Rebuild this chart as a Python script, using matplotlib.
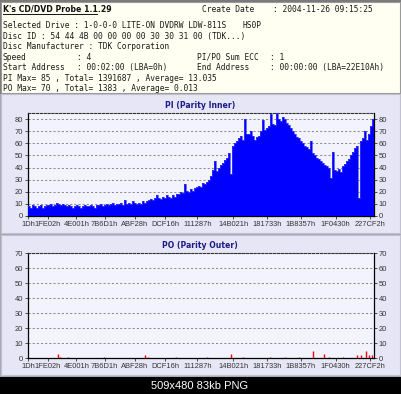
import matplotlib
matplotlib.use("Agg")
import matplotlib.pyplot as plt
import numpy as np
from matplotlib.patches import Rectangle
from matplotlib.lines import Line2D

W, H = 402, 394
END_LBA = 0x22E10A

# ---- data ----
pi_values = [
    8, 7, 9, 8, 7,
    8, 9, 7, 8, 9,
    9, 10, 8, 9, 11,
    10, 9, 10, 9, 8,
    9, 8, 7, 8, 9,
    8, 7, 8, 9, 8,
    8, 9, 8, 7, 9,
    9, 10, 8, 9, 10,
    9, 10, 11, 9, 10,
    10, 11, 9, 13, 10,
    11, 10, 12, 11, 10,
    11, 10, 12, 11, 12,
    13, 14, 13, 15, 17,
    15, 14, 16, 15, 17,
    16, 15, 17, 16, 18,
    18, 20, 19, 26, 21,
    20, 22, 21, 23, 24,
    25, 24, 27, 26, 28,
    30, 33, 38, 45, 37,
    40, 42, 44, 46, 48,
    52, 35, 58, 60, 62,
    64, 66, 63, 80, 68,
    68, 70, 66, 63, 65,
    66, 70, 79, 71, 73,
    74, 84, 76, 75, 85,
    80, 78, 82, 80, 77,
    75, 73, 70, 68, 65,
    64, 62, 60, 58, 57,
    55, 62, 52, 50, 48,
    47, 45, 44, 42, 41,
    40, 31, 53, 38, 37,
    39, 36, 41, 43, 45,
    47, 50, 53, 56, 58,
    15, 62, 64, 70, 63,
    68, 74, 80,
]

po_lba = [198000, 214000, 262000, 500000, 773000, 790000, 980000, 1180000,
          1341000, 1420000, 1600000, 1700000, 1790000, 1883000, 1955000,
          1990000, 2080000, 2174000, 2200000, 2233000, 2250000, 2270000]
po_val = [3, 1, 1, 1, 2, 1, 1, 1,
          3, 1, 1, 1, 1, 5, 3,
          1, 1, 2, 2, 5, 2, 2]

pi_ticks = [0x1D, 0x1FE02, 0x4E001, 0x7B6D1, 0xABF28, 0xDCF16,
            0x111287, 0x14B021, 0x181733, 0x1B8357, 0x1F0430, 0x227CF2]
tick_labels = ["1Dh", "1FE02h", "4E001h", "7B6D1h", "ABF28h", "DCF16h",
               "111287h", "14B021h", "181733h", "1B8357h", "1F0430h", "227CF2h"]

header_lines = [
    "Selected Drive : 1-0-0-0 LITE-ON DVDRW LDW-811S",
    "Disc ID : 54 44 4B 00 00 00 00 30 30 31 00 (TDK...)",
    "Disc Manufacturer : TDK Corporation",
    "Speed",
    "Start Address",
    "PI Max= 85 , Total= 1391687 , Average= 13.035",
    "PO Max= 70 , Total= 1383 , Average= 0.013",
]

# ---- figure ----
fig = plt.figure(figsize=(W / 100, H / 100), dpi=100)
fig.patch.set_facecolor("white")


def rect(x, y, w, h, fc, ec="none", lw=0, z=0):
    fig.add_artist(Rectangle((x / W, 1 - (y + h) / H), w / W, h / H,
                             transform=fig.transFigure, facecolor=fc,
                             edgecolor=ec, linewidth=lw, zorder=z))


def hline(x0, x1, y, color, lw=1):
    fig.add_artist(Line2D([x0 / W, x1 / W], [1 - y / H, 1 - y / H],
                          transform=fig.transFigure, color=color, linewidth=lw))


def txt(x, y, s, **kw):
    fig.text(x / W, 1 - y / H, s, transform=fig.transFigure, **kw)


# outer frame and header
rect(0, 0, 402, 377, "#a8a8b0")
rect(0, 0, 402, 94, "#7a7a7a")
rect(1.5, 1.5, 399, 91, "#FFFFF2", ec="#9a9a9a", lw=0.8)
rect(1.5, 94.5, 399, 138, "#E6E6F6", ec="#c0c0d0", lw=0.8)
rect(1.5, 235, 399, 140, "#E6E6F6", ec="#c0c0d0", lw=0.8)
rect(0, 377, 402, 17, "black")

mono = dict(family="DejaVu Sans Mono", fontsize=5.7, color="#1a1a1a", va="center", ha="left")
txt(3, 9.5, "K's CD/DVD Probe 1.1.29", family="DejaVu Sans", fontsize=5.6,
    fontweight="bold", color="#111111", va="center", ha="left")
hline(3, 97, 14, "#111111", 0.7)
txt(202, 9.5, "Create Date", **mono)
txt(273, 9.5, ": 2004-11-26 09:15:25", **mono)

ys = [25.5 + i * 10.55 for i in range(7)]
txt(3, ys[0], header_lines[0], **mono)
txt(243, ys[0], "HS0P", **mono)
txt(3, ys[1], header_lines[1], **mono)
txt(3, ys[2], header_lines[2], **mono)
txt(3, ys[3], header_lines[3], **mono)
txt(77, ys[3], ": 4", **mono)
txt(197, ys[3], "PI/PO Sum ECC", **mono)
txt(270, ys[3], ": 1", **mono)
txt(3, ys[4], header_lines[4], **mono)
txt(77, ys[4], ": 00:02:00 (LBA=0h)", **mono)
txt(197, ys[4], "End Address", **mono)
txt(270, ys[4], ": 00:00:00 (LBA=22E10Ah)", **mono)
txt(3, ys[5], header_lines[5], **mono)
txt(3, ys[6], header_lines[6], **mono)

txt(200, 386, "509x480 83kb PNG", family="Liberation Sans", fontsize=8,
    color="white", ha="center", va="center")


def make_axes(top, bottom, ymax, step):
    ax = fig.add_axes([28 / W, 1 - bottom / H, 346 / W, (bottom - top) / H])
    ax.set_facecolor("#F3F3FD")
    ax.set_xlim(0, END_LBA)
    ax.set_ylim(0, ymax)
    ax.set_yticks(np.arange(0, ymax + 1, step))
    ax.yaxis.grid(True, color="#8c8c8c", linestyle=(0, (2, 2)), linewidth=0.75)
    ax.set_axisbelow(True)
    ax.set_xticks(pi_ticks)
    ax.set_xticklabels(tick_labels)
    ax.tick_params(axis="both", labelsize=5.4, colors="#333333", length=2,
                   width=0.6, pad=1.5, labelright=True, right=True)
    for lab in ax.get_xticklabels() + ax.get_yticklabels():
        lab.set_family("Liberation Sans")
    for s in ["left", "right", "bottom"]:
        ax.spines[s].set_color("black")
        ax.spines[s].set_linewidth(0.9)
    ax.spines["top"].set_color("#333333")
    ax.spines["top"].set_linestyle((0, (2, 1.5)))
    ax.spines["top"].set_linewidth(0.8)
    return ax


# PI chart
txt(200, 105, "PI (Parity Inner)", family="DejaVu Sans", fontsize=5.6,
    fontweight="bold", color="#1c1c8a", ha="center", va="center")
ax1 = make_axes(113, 216, 85, 10)
n = len(pi_values)
xs = np.linspace(0, END_LBA, n + 1)
ax1.fill_between(xs, list(pi_values) + [pi_values[-1]], step="post",
                 color="#0000FF", linewidth=0, zorder=3)
ax1.step(xs, list(pi_values) + [pi_values[-1]], where="post",
         color="#3c3cff", linewidth=0.5, zorder=4)

# PO chart
txt(200, 246, "PO (Parity Outer)", family="DejaVu Sans", fontsize=5.6,
    fontweight="bold", color="#1c1c8a", ha="center", va="center")
ax2 = make_axes(253.3, 358.3, 70, 10)
ax2.vlines(po_lba, 0, po_val, color="#FF0000", linewidth=1.0, zorder=3)
ax2.plot([END_LBA * 0.55, END_LBA], [0.3, 0.3], color="#dd2020", linewidth=0.6, zorder=3)

fig.savefig("out.png", dpi=100)
